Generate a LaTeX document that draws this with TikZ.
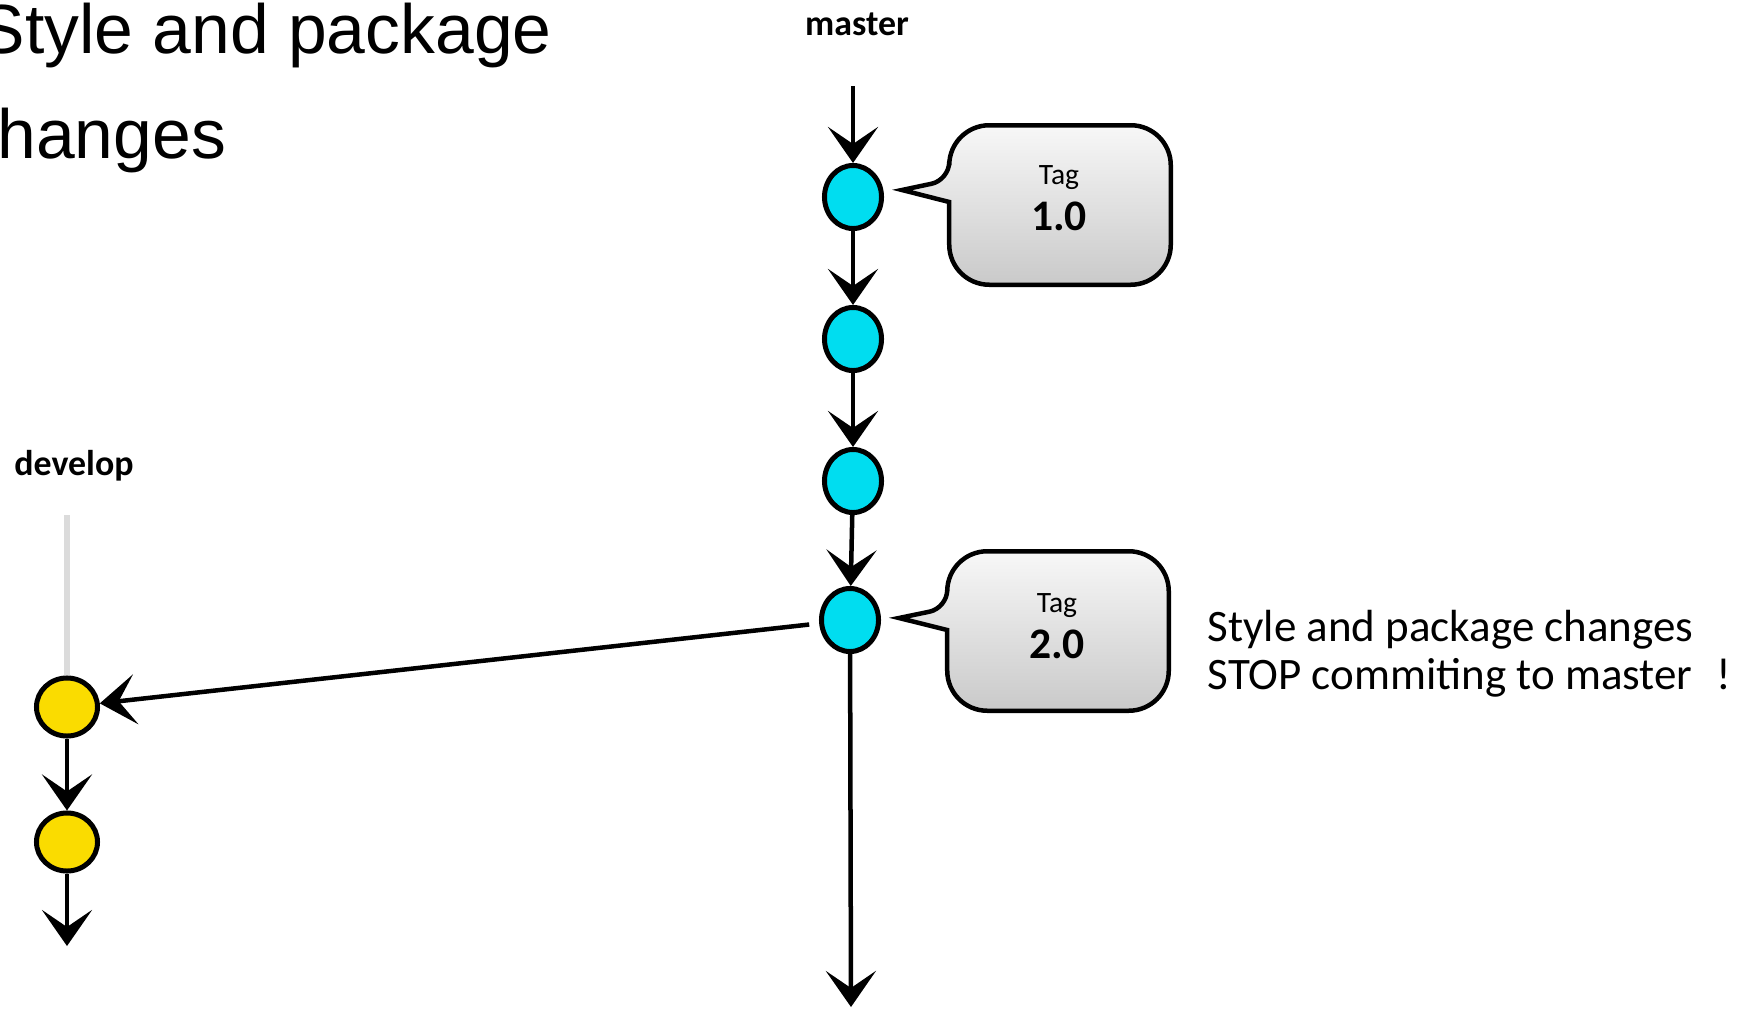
\documentclass[tikz,border=0pt]{standalone}
\usepackage{fontspec}
\usetikzlibrary{arrows.meta,shapes.geometric,calc}
\newfontfamily\carl{Carlito}
\newfontfamily\libsans{Liberation Sans}
\definecolor{commitcyan}{RGB}{0,221,240}
\definecolor{commityellow}{RGB}{250,220,0}
\tikzset{
  commit/.style={ellipse, draw=black, line width=0.05cm, inner sep=0pt,
    minimum width=0.57cm, minimum height=0.63cm},
  mcommit/.style={commit, fill=commitcyan},
  dcommit/.style={commit, fill=commityellow, minimum width=0.61cm, minimum height=0.58cm},
  flow/.style={line width=0.045cm, black,
    -{Stealth[width=0.5cm,length=0.36cm,inset=0.17cm]}},
  bubble/.style={draw=black, line width=0.045cm, top color=gray!6, bottom color=gray!42},
  bubblebox/.style={rectangle, minimum width=2.2cm, minimum height=1.58cm, inner sep=0pt},
  branchname/.style={font=\carl\bfseries\fontsize{10.2}{12}\selectfont},
  tagname/.style={align=center, inner sep=0pt},
}
\begin{document}
\begin{tikzpicture}[x=0.01cm, y=-0.01cm]
  \useasboundingbox (0,0) rectangle (1745,1009);

  % slide title
  \node[anchor=base west, inner sep=0pt, font=\libsans\fontsize{19.8}{22}\selectfont]
    (title1) at (-22,53) {Style and package};
  \node[anchor=base west, inner sep=0pt, font=\libsans\fontsize{19.8}{22}\selectfont]
    (title2) at (-38,158) {changes};

  % branch names
  \node[branchname] (master) at (857,24) {master};
  \node[branchname] (develop) at (74,466) {develop};

  % master commits
  \coordinate (mtop) at (853,86);
  \node[mcommit] (c1) at (853,197) {};
  \node[mcommit] (c2) at (853,339) {};
  \node[mcommit] (c3) at (853,481) {};
  \node[mcommit] (c4) at (850,620) {};
  \coordinate (mend) at (851,1007);

  % develop commits
  \coordinate (dtop) at (67,515);
  \node[dcommit] (d1) at (67,707) {};
  \node[dcommit] (d2) at (67,842) {};
  \coordinate (dend) at (67,946);

  % master history
  \draw[flow] (mtop) -- (c1);
  \draw[flow] (c1) -- (c2);
  \draw[flow] (c2) -- (c3);
  \draw[flow] (c3) -- (c4);
  \draw[flow] (c4) -- (mend);

  % develop branch
  \draw[line width=0.05cm, gray!28] (dtop) -- (d1);
  \draw[flow, shorten <=0.1cm] (c4) -- (d1);
  \draw[flow] (d1) -- (d2);
  \draw[flow] (d2) -- (dend);

  % tag callouts
  \node[bubblebox] (tag1) at (1060,205) {};
  \coordinate (p1) at (902,190);
  \draw[bubble] (p1) -- ($(tag1.west)+(0,-3)$) [rounded corners=0.4cm]
    -- (tag1.south west) -- (tag1.south east) -- (tag1.north east)
    -- (tag1.north west) [rounded corners=0.18cm] -- ($(tag1.west)+(0,-25)$)
    [sharp corners] -- cycle;
  \node[tagname] (tag1txt) at (1059,198)
    {{\carl\fontsize{8.4}{10}\selectfont Tag}\\[1pt]{\carl\bfseries\fontsize{12.4}{14}\selectfont 1.0}};

  \node[bubblebox] (tag2) at (1058,631) {};
  \coordinate (p2) at (899,618);
  \draw[bubble] (p2) -- ($(tag2.west)+(0,-1)$) [rounded corners=0.4cm]
    -- (tag2.south west) -- (tag2.south east) -- (tag2.north east)
    -- (tag2.north west) [rounded corners=0.18cm] -- ($(tag2.west)+(0,-23)$)
    [sharp corners] -- cycle;
  \node[tagname] (tag2txt) at (1057,626)
    {{\carl\fontsize{8.4}{10}\selectfont Tag}\\[1pt]{\carl\bfseries\fontsize{12.4}{14}\selectfont 2.0}};

  % note beside the release
  \node[anchor=base west, inner sep=0pt, align=left,
        font=\carl\fontsize{12.8}{13.4}\selectfont] (note) at (1207,689)
    {Style and package changes\\STOP commiting to master\hspace{0.24cm}!};
\end{tikzpicture}
\end{document}
